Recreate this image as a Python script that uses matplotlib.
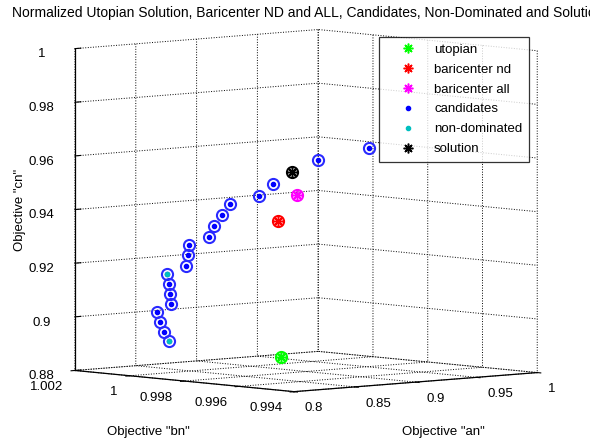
import numpy as np
import matplotlib
matplotlib.use('Agg')
import matplotlib.pyplot as plt

plt.rcParams['font.family'] = ['Liberation Sans', 'DejaVu Sans']
plt.rcParams['grid.color'] = 'k'
plt.rcParams['grid.linestyle'] = ':'
plt.rcParams['grid.linewidth'] = 0.7

# candidates (normalized objectives an, bn, cn)
cand_an = [0.868, 0.861, 0.854, 0.848, 0.854, 0.849, 0.845, 0.840, 0.848, 0.846,
           0.843, 0.849, 0.848, 0.849, 0.850, 0.861, 0.864, 0.883, 0.907]
cand_bn = [1.0016, 1.00144, 1.00128, 1.00112, 1.00088, 1.00072, 1.00056, 1.0004,
           1.00008, 0.99992, 0.99976, 0.99928, 0.99904, 0.9988, 0.99856, 0.998,
           0.9976, 0.9968, 0.996]
cand_cn = [0.8889, 0.8929, 0.8970, 0.9011, 0.9040, 0.9080, 0.9122, 0.9163, 0.9191,
           0.9233, 0.9273, 0.9307, 0.9350, 0.9392, 0.9436, 0.9467, 0.9517, 0.9607,
           0.9650]

# non-dominated
nd_an = [0.868, 0.840]
nd_bn = [1.0016, 1.0004]
nd_cn = [0.8889, 0.9163]

# single points: an, bn, cn
utopian = [0.8974, 0.9988, 0.8847]
bari_nd = [0.8855, 0.9984, 0.9364]
bari_all = [0.8838, 0.9976, 0.9468]
solution = [0.8702, 0.9972, 0.9562]

an_ticks = [0.8, 0.85, 0.9, 0.95, 1]
bn_ticks = [0.994, 0.996, 0.998, 1, 1.002]
cn_ticks = [0.88, 0.9, 0.92, 0.94, 0.96, 0.98, 1]

STAR = (8, 2, 0)  # matlab style asterisk

W, H = 590, 443
fig = plt.figure(figsize=(W/100, H/100), dpi=100)
side = 548
cx, cy = 298.7, 443 - 218
ax = fig.add_axes([(cx - side/2)/W, (cy - side/2)/H, side/W, side/H],
                  projection='3d', proj_type='ortho')
ax.set_box_aspect((1, 1, 0.987))
ax.view_init(elev=5, azim=-132)

# rings around every candidate / special point
ax.plot(cand_an, cand_bn, cand_cn, 'o', mfc='none', mec='#2a2aff', ms=8, mew=1.5)
ax.plot(cand_an, cand_bn, cand_cn, 'b.', ms=6)
ax.plot(nd_an, nd_bn, nd_cn, '.', color='c', ms=6)

for p, c in [(utopian, (0, 1, 0)), (bari_nd, (1, 0, 0)),
             (bari_all, (1, 0, 1)), (solution, (0, 0, 0))]:
    ax.plot([p[0]], [p[1]], [p[2]], 'o', mfc='none', mec=c, ms=8, mew=1.5)

h_ut, = ax.plot([utopian[0]], [utopian[1]], [utopian[2]], marker=STAR,
                ls='none', color=(0, 1, 0), ms=7, mew=1.1)
h_bnd, = ax.plot([bari_nd[0]], [bari_nd[1]], [bari_nd[2]], marker=STAR,
                 ls='none', color=(1, 0, 0), ms=7, mew=1.1)
h_ball, = ax.plot([bari_all[0]], [bari_all[1]], [bari_all[2]], marker=STAR,
                  ls='none', color=(1, 0, 1), ms=7, mew=1.1)
h_sol, = ax.plot([solution[0]], [solution[1]], [solution[2]], marker=STAR,
                 ls='none', color='k', ms=7, mew=1.1)
h_c, = ax.plot([], [], [], 'b.', ms=6)
h_nd, = ax.plot([], [], [], '.', color='c', ms=6)

ax.set_xlim(0.8, 1)
ax.set_ylim(0.994, 1.002)
ax.set_zlim(0.88, 1)
ax.set_xticks(an_ticks)
ax.set_yticks(bn_ticks)
ax.set_zticks(cn_ticks)
ax.set_xticklabels([f'{t:g}' for t in an_ticks], ha='left', va='center')
ax.set_yticklabels([f'{t:g}' for t in bn_ticks], ha='right', va='center')
ax.set_zticklabels([f'{t:g}' for t in cn_ticks])
ax.tick_params(labelsize=9.5, pad=2)
ax.tick_params(axis='z', pad=7)

for axis in (ax.xaxis, ax.yaxis, ax.zaxis):
    axis.set_pane_color((1, 1, 1, 0))
    axis.pane.set_edgecolor('none')
    axis.line.set_color('k')
    axis.line.set_linewidth(0.9)
    axis._axinfo['grid'].update(color='k', linestyle=':', linewidth=0.7)
    axis._axinfo['tick']['inward_factor'] = 0.2
    axis._axinfo['tick']['outward_factor'] = 0.0
ax.zaxis._axinfo['tick']['inward_factor'] = 0.0
ax.zaxis._axinfo['tick']['outward_factor'] = 0.3

leg = fig.legend([h_ut, h_bnd, h_ball, h_c, h_nd, h_sol],
                 ['utopian', 'baricenter nd', 'baricenter all', 'candidates',
                  'non-dominated', 'solution'],
                 loc='upper right', bbox_to_anchor=(529/W, 1 - 37/H),
                 borderaxespad=0, fontsize=9.5, frameon=True, fancybox=False,
                 edgecolor='k', handlelength=3.5, handletextpad=0.2,
                 borderpad=0.5, labelspacing=0.58)
leg.get_frame().set_linewidth(0.9)

fig.text(12/W, 1 - 13/H,
         'Normalized Utopian Solution, Baricenter ND and ALL, Candidates, '
         'Non-Dominated and Solution', ha='left', va='center', fontsize=10)
fig.text(148/W, 1 - 432/H, 'Objective "bn"', ha='center', va='center', fontsize=9.5)
fig.text(443/W, 1 - 432/H, 'Objective "an"', ha='center', va='center', fontsize=9.5)
fig.text(20/W, 1 - 210/H, 'Objective "cn"', ha='center', va='center',
         rotation=90, fontsize=9.5)

fig.savefig('out.png', dpi=100)
